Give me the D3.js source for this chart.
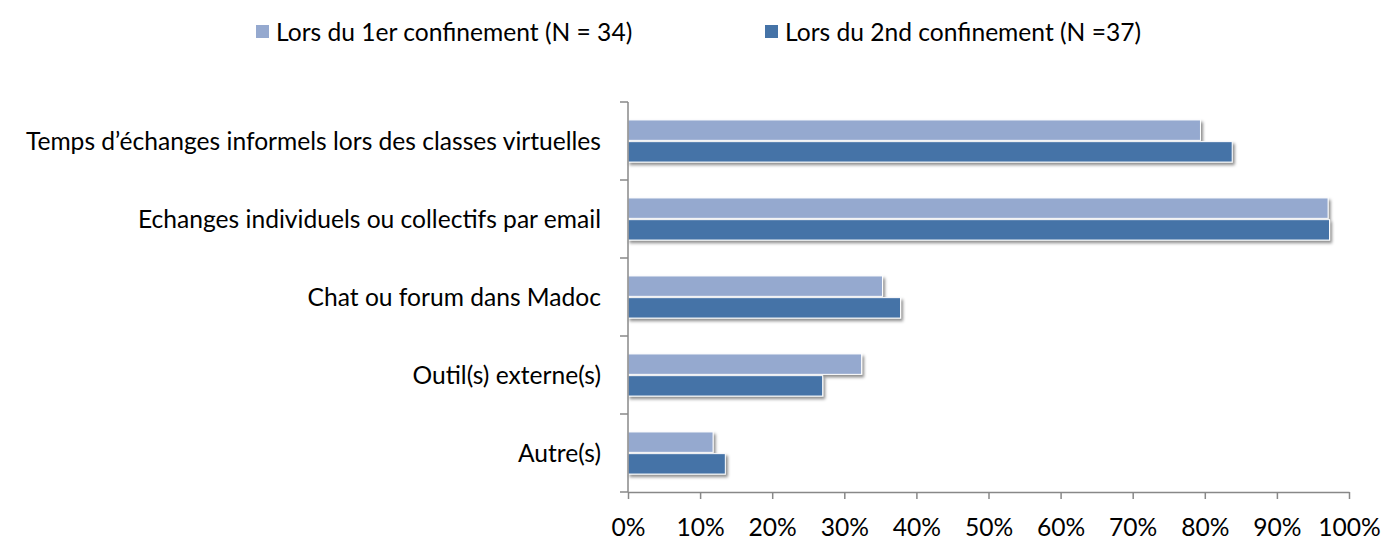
<!DOCTYPE html>
<html>
<head>
<meta charset="utf-8">
<script src="https://cdn.jsdelivr.net/npm/d3@7"></script>
<style>
  body { margin: 0; background: #fff; }
  svg { font-family: Lato, "Open Sans", sans-serif; }
</style>
</head>
<body>
<svg id="chart" width="1383" height="541"></svg>
<script>
// data
const categories = [
  "Temps d’échanges informels lors des classes virtuelles",
  "Echanges individuels ou collectifs par email",
  "Chat ou forum dans Madoc",
  "Outil(s) externe(s)",
  "Autre(s)"
];
const seriesNames = ["Lors du 1er confinement (N = 34)", "Lors du 2nd confinement (N =37)"];
const firstLockdown = [79.4, 97.1, 35.3, 32.4, 11.8];
const secondLockdown = [83.8, 97.3, 37.8, 27.0, 13.5];
const tickValues = [0, 10, 20, 30, 40, 50, 60, 70, 80, 90, 100];
const colors = ["#95a9cf", "#4573a7"];

const fontSize = 24.6;

const margin = { top: 102, right: 34, bottom: 49, left: 628 },
      width = 1383 - margin.left - margin.right,
      height = 541 - margin.top - margin.bottom;

const svg = d3.select("#chart");

// drop shadow for the bars
const defs = svg.append("defs");
const f = defs.append("filter").attr("id", "shadow")
    .attr("x", "-5%").attr("y", "-30%").attr("width", "115%").attr("height", "170%");
f.append("feDropShadow")
    .attr("dx", 2).attr("dy", 2.5).attr("stdDeviation", 1.6)
    .attr("flood-color", "#000").attr("flood-opacity", 0.45);

const g = svg.append("g").attr("transform", `translate(${margin.left},${margin.top})`);

const x = d3.scaleLinear().domain([0, 100]).range([0, width]);
const y = d3.scaleBand().domain(categories).range([0, height]).paddingInner(0.46).paddingOuter(0.23);
const ySub = d3.scaleBand().domain([0, 1]).range([0, y.bandwidth()]).paddingInner(0.06);

const rows = categories.map((c, i) => ({ cat: c, vals: [firstLockdown[i], secondLockdown[i]] }));

// bars
const grp = g.selectAll(".cat").data(rows).enter().append("g")
    .attr("transform", d => `translate(0,${y(d.cat)})`);
grp.selectAll("rect").data(d => d.vals).enter().append("rect")
    .attr("x", 0)
    .attr("y", (d, i) => ySub(i))
    .attr("width", d => x(d))
    .attr("height", ySub.bandwidth())
    .attr("fill", (d, i) => colors[i])
    .attr("stroke", "#fff")
    .attr("stroke-width", 1)
    .attr("filter", "url(#shadow)");

// x axis
const xAxis = g.append("g")
    .attr("transform", `translate(0,${height})`)
    .call(d3.axisBottom(x).tickValues(tickValues).tickFormat(d => d + "%").tickSize(7).tickSizeOuter(0));
xAxis.select(".domain").attr("stroke", "#888").attr("stroke-width", 1.5);
xAxis.selectAll(".tick line").attr("stroke", "#888").attr("stroke-width", 1.5);
xAxis.selectAll(".tick text").attr("font-size", fontSize).attr("fill", "#000")
    .attr("y", 35).attr("dy", "0.35em")
    .attr("font-family", "Lato, sans-serif");

// y axis: ticks at band boundaries
const bounds = d3.range(categories.length + 1).map(i => i * height / categories.length);
g.append("line").attr("x1", 0).attr("x2", 0).attr("y1", 0).attr("y2", height)
    .attr("stroke", "#888").attr("stroke-width", 1.5);
g.selectAll(".ytick").data(bounds).enter().append("line")
    .attr("x1", -8).attr("x2", 0).attr("y1", d => d).attr("y2", d => d)
    .attr("stroke", "#888").attr("stroke-width", 1.5);
g.selectAll(".ylab").data(categories).enter().append("text")
    .attr("x", -27)
    .attr("y", d => y(d) + y.bandwidth() / 2)
    .attr("dy", "0.35em")
    .attr("text-anchor", "end")
    .attr("font-size", fontSize)
    .attr("fill", "#000")
    .text(d => d);

// legend
const legendX = [256, 765];
const legend = svg.append("g");
seriesNames.forEach((s, i) => {
  legend.append("rect").attr("x", legendX[i]).attr("y", 25).attr("width", 13).attr("height", 13)
      .attr("fill", colors[i]);
  legend.append("text").attr("x", legendX[i] + 20).attr("y", 32).attr("dy", "0.35em")
      .attr("font-size", fontSize).attr("fill", "#000").text(s);
});
</script>
</body>
</html>
